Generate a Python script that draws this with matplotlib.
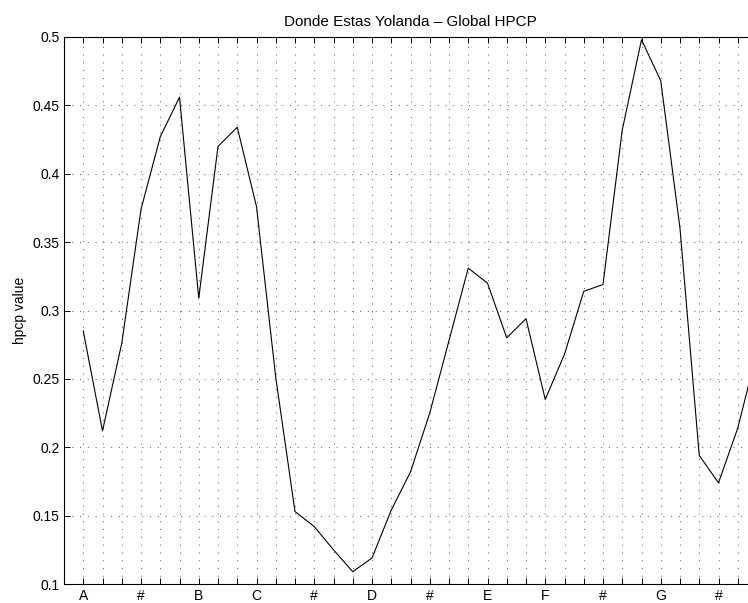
import numpy as np
import matplotlib
matplotlib.use('Agg')
import matplotlib.pyplot as plt

# ── Global HPCP profile, 36 bins (three per semitone, starting on A) ─────────
bins = list(range(1, 37))
hpcp = [
    0.285, 0.212, 0.276, 0.374, 0.427, 0.456,
    0.309, 0.420, 0.434, 0.376, 0.251, 0.153,
    0.142, 0.125, 0.109, 0.119, 0.154, 0.182,
    0.225, 0.278, 0.331, 0.320, 0.280, 0.294,
    0.235, 0.268, 0.314, 0.319, 0.432, 0.498,
    0.468, 0.360, 0.194, 0.174, 0.214, 0.270,
]
note_labels = ['A', '#', 'B', 'C', '#', 'D', '#', 'E', 'F', '#', 'G', '#']
yticks = [0.1, 0.15, 0.2, 0.25, 0.3, 0.35, 0.4, 0.45, 0.5]

plt.rcParams.update({
    'font.family': ['Liberation Sans', 'DejaVu Sans'],
    'font.size': 10,
})

fig = plt.figure(figsize=(7.48, 6.03), dpi=100)
# axes run past the right edge of the figure
ax = fig.add_axes([64 / 748, 19 / 603, 693 / 748, 547 / 603])

ax.plot(bins, hpcp, color='black', linewidth=0.8, zorder=3)

ax.set_xlim(0, 36)
ax.set_ylim(0.1, 0.5)

ax.set_xticks(bins[:-1])
ax.set_xticklabels([note_labels[(b - 1) // 3] if (b - 1) % 3 == 0 else '' for b in bins[:-1]])
ax.set_yticks(yticks)
ax.set_yticklabels(['0.1', '0.15', '0.2', '0.25', '0.3', '0.35', '0.4', '0.45', '0.5'])

ax.tick_params(direction='in', length=4.3, width=0.7, top=True, right=True,
               colors='black', labelsize=10)
ax.tick_params(axis='x', pad=3.5)
ax.tick_params(axis='y', pad=3)

for s in ax.spines.values():
    s.set_linewidth(0.8)
    s.set_color('black')

ax.grid(True, color='#555555', linewidth=0.7, linestyle=(0, (1, 7)), zorder=1)
ax.set_axisbelow(True)

ax.set_ylabel('hpcp value', labelpad=4)
ax.set_title('Donde Estas Yolanda – Global HPCP', pad=8, fontsize=11)

fig.savefig('out.png', dpi=100, facecolor='white')
